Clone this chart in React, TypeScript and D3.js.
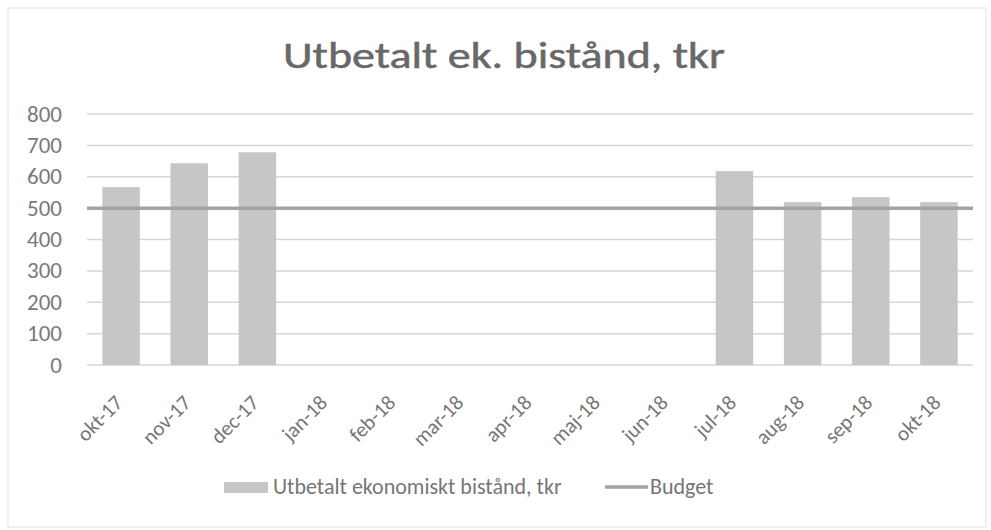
import React from "react";
import * as d3 from "d3";

const categories = ["okt-17","nov-17","dec-17","jan-18","feb-18","mar-18","apr-18","maj-18","jun-18","jul-18","aug-18","sep-18","okt-18"];
const paid: (number | null)[] = [567, 643, 678, null, null, null, null, null, null, 618, 519, 535, 519];
const budget = [500,500,500,500,500,500,500,500,500,500,500,500,500];
const yTicks = [0,100,200,300,400,500,600,700,800];
const title = "Utbetalt ek. bistånd, tkr";
const legendBar = "Utbetalt ekonomiskt  bistånd, tkr";
const legendLine = "Budget";

export default function App() {
  const W = 991, H = 530;
  const left = 87, right = 973, top = 114, bottom = 365;
  const x = d3.scaleBand<string>().domain(categories).range([left, right]).paddingInner(0.45).paddingOuter(0.225);
  const xc = d3.scaleBand<string>().domain(categories).range([left, right]);
  const y = d3.scaleLinear().domain([0, 800]).range([bottom, top]);
  const n = budget.length;
  const bx = d3.scaleLinear().domain([0, n - 1]).range([left, right]);
  const line = d3.line<number>().x((_, i) => bx(i)).y(d => y(d));
  const font = "Carlito, 'Open Sans', 'Liberation Sans', sans-serif";
  const textColor = "#767676";
  return (
    <svg width={W} height={H} style={{ position: "absolute", left: 0, top: 0, background: "#fff" }} fontFamily={font}>
      <rect x={8} y={8} width={978} height={519} fill="#fff" stroke="#ececec" strokeWidth={1.5} />
      <text x={504} y={68} textAnchor="middle" fontSize={36} fill="#686868" stroke="#686868" strokeWidth={0.5} textLength={442} lengthAdjust="spacingAndGlyphs">{title}</text>
      {yTicks.map(t => (
        <g key={t}>
          <line x1={left} x2={right} y1={y(t)} y2={y(t)} stroke="#d6d6d6" strokeWidth={1.5} />
          <text x={62} y={y(t) + 7.5} textAnchor="end" fontSize={23} fill="#7a7a7a">{t}</text>
        </g>
      ))}
      {categories.map((c, i) => paid[i] == null ? null : (
        <rect key={c} x={x(c)} y={y(paid[i] as number)} width={x.bandwidth()} height={y(0) - y(paid[i] as number)} fill="#c6c6c6" />
      ))}
      <path d={line(budget) || ""} fill="none" stroke="#a3a3a3" strokeWidth={3.5} />
      {categories.map(c => {
        const cx = (xc(c) as number) + xc.bandwidth() / 2 + 3;
        return (
          <text key={c} transform={`translate(${cx},${404}) rotate(-45)`} textAnchor="end" fontSize={21} fill={textColor}>{c}</text>
        );
      })}
      <rect x={224} y={482} width={44} height={11} fill="#c6c6c6" />
      <text x={273} y={494} fontSize={22} fill={textColor}>{legendBar}</text>
      <line x1={605} x2={648} y1={487} y2={487} stroke="#a3a3a3" strokeWidth={3.5} />
      <text x={650} y={494} fontSize={22} fill={textColor}>{legendLine}</text>
    </svg>
  );
}
